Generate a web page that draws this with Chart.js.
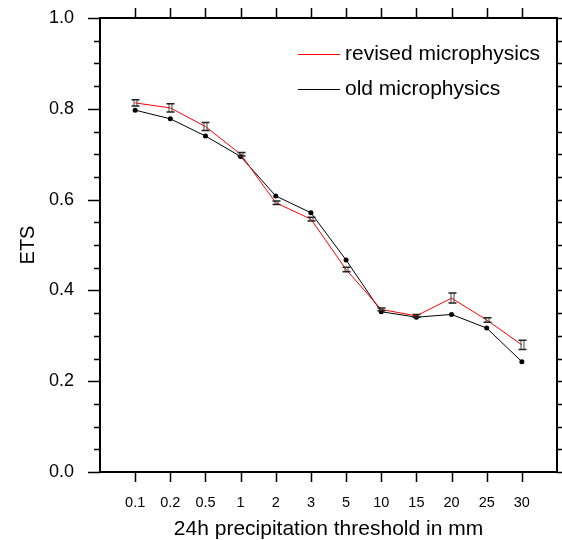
<!DOCTYPE html>
<html>
<head>
<meta charset="utf-8">
<script src="https://cdn.jsdelivr.net/npm/chart.js@4.4.1/dist/chart.umd.min.js"></script>
<style>
  html, body { margin: 0; padding: 0; background: #fff; }
  #wrap { width: 562px; height: 540px; }
</style>
</head>
<body>
<div id="wrap"><canvas id="etsChart" width="562" height="540"></canvas></div>
<script>
// threshold categories (mm / 24h)
const thresholds = ['0.1', '0.2', '0.5', '1', '2', '3', '5', '10', '15', '20', '25', '30'];
// ETS, revised microphysics + half width of its error bar
const revisedEts = [0.813, 0.802, 0.761, 0.700, 0.593, 0.557, 0.446, 0.358, 0.344, 0.383, 0.335, 0.280];
const revisedErr = [0.007, 0.009, 0.009, 0.004, 0.004, 0.004, 0.005, 0.003, 0.003, 0.011, 0.005, 0.010];
// ETS, old microphysics
const oldEts = [0.797, 0.778, 0.740, 0.695, 0.608, 0.571, 0.467, 0.353, 0.341, 0.347, 0.317, 0.243];
const yTickValues = [0, 0.2, 0.4, 0.6, 0.8, 1.0];

const FONT = "'Liberation Sans', Arial, Helvetica, sans-serif";

// frame + outward tick marks on all four sides (minor ticks every 0.05 on y)
const frameTicks = {
  id: 'frameTicks',
  afterDraw(chart) {
    const { ctx, chartArea: a, scales: { x, y } } = chart;
    ctx.save();
    ctx.strokeStyle = '#000';
    ctx.lineWidth = 2;
    ctx.strokeRect(a.left, a.top, a.right - a.left, a.bottom - a.top);
    ctx.lineWidth = 1.5;
    ctx.beginPath();
    thresholds.forEach((_, i) => {
      const px = Math.round(x.getPixelForValue(i)) + 0.5;
      ctx.moveTo(px, a.bottom); ctx.lineTo(px, a.bottom + 10);
      ctx.moveTo(px, a.top); ctx.lineTo(px, a.top - 10);
    });
    for (let k = 0; k <= 20; k++) {
      const py = Math.round(y.getPixelForValue(k * 0.05)) + 0.5;
      const len = k % 4 === 0 ? 12 : 6;
      ctx.moveTo(a.left - len, py); ctx.lineTo(a.left, py);
      ctx.moveTo(a.right, py); ctx.lineTo(a.right + len, py);
    }
    ctx.stroke();

    // legend, drawn inside the plot
    const items = [
      { label: chart.data.datasets[0].label, color: '#ff0000', y: 54 },
      { label: chart.data.datasets[1].label, color: '#000000', y: 89 }
    ];
    ctx.font = '21px ' + FONT;
    ctx.textBaseline = 'middle';
    ctx.fillStyle = '#000';
    items.forEach(it => {
      ctx.strokeStyle = it.color;
      ctx.lineWidth = 1;
      ctx.beginPath();
      ctx.moveTo(298, it.y + 0.5); ctx.lineTo(340, it.y + 0.5);
      ctx.stroke();
      ctx.fillText(it.label, 345, it.y);
    });
    ctx.restore();
  }
};

// error bars on the revised series
const errorBars = {
  id: 'errorBars',
  afterDatasetsDraw(chart) {
    const { ctx, scales: { x, y } } = chart;
    ctx.save();
    revisedEts.forEach((v, i) => {
      const px = Math.round(x.getPixelForValue(i)) + 0.5;
      const top = y.getPixelForValue(v + revisedErr[i]);
      const bot = y.getPixelForValue(v - revisedErr[i]);
      ctx.strokeStyle = '#444';
      ctx.lineWidth = 1;
      ctx.beginPath();
      ctx.moveTo(px - 1.5, top); ctx.lineTo(px - 1.5, bot);
      ctx.moveTo(px + 1.5, top); ctx.lineTo(px + 1.5, bot);
      ctx.stroke();
      ctx.strokeStyle = '#222';
      ctx.lineWidth = 1.5;
      ctx.beginPath();
      ctx.moveTo(px - 4, top); ctx.lineTo(px + 4, top);
      ctx.moveTo(px - 4, bot); ctx.lineTo(px + 4, bot);
      ctx.stroke();
    });
    ctx.restore();
  }
};

new Chart(document.getElementById('etsChart'), {
  type: 'line',
  data: {
    datasets: [
      {
        label: 'revised microphysics',
        data: revisedEts.map((v, i) => ({ x: i, y: v })),
        borderColor: '#ff0000',
        borderWidth: 1,
        pointRadius: 0,
        tension: 0
      },
      {
        label: 'old microphysics',
        data: oldEts.map((v, i) => ({ x: i, y: v })),
        borderColor: '#000000',
        borderWidth: 1,
        pointRadius: 2.5,
        pointBackgroundColor: '#000',
        pointBorderWidth: 0,
        tension: 0
      }
    ]
  },
  options: {
    responsive: false,
    animation: false,
    events: [],
    layout: { padding: { top: 18, right: 5, left: 0, bottom: 0 } },
    plugins: { legend: { display: false }, tooltip: { enabled: false } },
    scales: {
      x: {
        type: 'linear',
        min: -1,
        max: 12,
        grid: { display: false },
        border: { display: false },
        afterBuildTicks: s => { s.ticks = thresholds.map((_, i) => ({ value: i })); },
        afterFit: s => { s.height = 68; s.paddingLeft = 0; s.paddingRight = 0; },
        ticks: {
          autoSkip: false,
          maxRotation: 0,
          padding: 14,
          color: '#000',
          font: { family: FONT, size: 14.5 },
          callback: v => thresholds[v] ?? ''
        },
        title: {
          display: true,
          text: '24h precipitation threshold in mm',
          color: '#000',
          font: { family: FONT, size: 21 },
          padding: { top: 0, bottom: -2 }
        }
      },
      y: {
        min: 0,
        max: 1,
        grid: { display: false },
        border: { display: false },
        afterBuildTicks: s => { s.ticks = yTickValues.map(v => ({ value: v })); },
        afterFit: s => { s.width = 100; s.paddingTop = 0; s.paddingBottom = 0; },
        ticks: {
          padding: 18,
          color: '#000',
          font: { family: FONT, size: 18 },
          callback: v => v.toFixed(1)
        },
        title: {
          display: true,
          text: 'ETS',
          color: '#000',
          font: { family: FONT, size: 20 },
          padding: { top: 16, bottom: 0 }
        }
      }
    }
  },
  plugins: [errorBars, frameTicks]
});
</script>
</body>
</html>
